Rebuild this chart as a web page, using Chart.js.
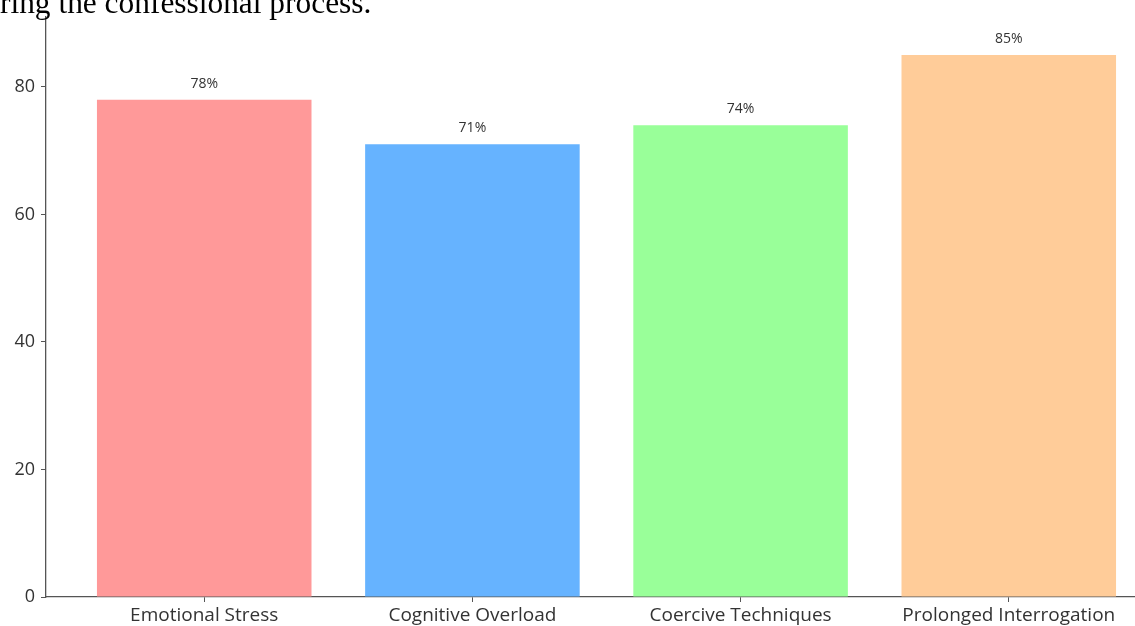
<!DOCTYPE html>
<html>
<head>
<meta charset="utf-8">
<script src="https://cdn.jsdelivr.net/npm/chart.js@4"></script>
<style>
  html, body { margin: 0; padding: 0; background: #fff; overflow: hidden; width: 1135px; height: 626px; }
  #wrap { position: relative; width: 1135px; height: 626px; overflow: hidden; }
  #cap {
    position: absolute; left: 0; top: -13px;
    font-family: "Liberation Serif", "Times New Roman", serif;
    font-size: 31.4px; line-height: 31px; color: #000; white-space: nowrap;
  }
  #chart { position: absolute; left: 0; top: 0; }
</style>
</head>
<body>
<div id="wrap">
  <canvas id="chart" width="1170" height="626"></canvas>
  <div id="cap">ring the confessional process.</div>
</div>
<script>
const categories = ["Emotional Stress", "Cognitive Overload", "Coercive Techniques", "Prolonged Interrogation"];
const values = [78, 71, 74, 85];
const colors = ["#ff9999", "#66b3ff", "#99ff99", "#ffcc99"];
const yTicks = [0, 20, 40, 60, 80];

const textColor = "#333";
const axisColor = "#555";
const font = "'Open Sans', Lato, sans-serif";

// percent labels above each bar
const barLabels = {
  id: "barLabels",
  afterDatasetsDraw(c) {
    const ctx = c.ctx;
    const meta = c.getDatasetMeta(0);
    ctx.save();
    ctx.fillStyle = textColor;
    ctx.font = "14px " + font;
    ctx.textAlign = "center";
    ctx.textBaseline = "bottom";
    meta.data.forEach((bar, i) => {
      const { x, y } = bar.getProps(["x", "y"], true);
      ctx.fillText(values[i] + "%", x, y - 9);
    });
    ctx.restore();
  }
};

new Chart(document.getElementById("chart"), {
  type: "bar",
  data: {
    datasets: [{
      data: values.map((v, i) => ({ x: i, y: v })),
      backgroundColor: colors,
      borderWidth: 0,
      barPercentage: 0.8,
      categoryPercentage: 1
    }]
  },
  options: {
    responsive: false,
    animation: false,
    layout: { padding: { left: 0, right: 3, top: 14, bottom: 0 } },
    plugins: { legend: { display: false }, tooltip: { enabled: false } },
    scales: {
      x: {
        type: "linear",
        offset: false,
        min: -0.59,
        max: 3.59,
        afterBuildTicks: s => { s.ticks = categories.map((_, i) => ({ value: i })); },
        afterFit: s => { s.height = 29; },
        grid: { offset: false, drawOnChartArea: false, drawTicks: true, tickLength: 5, color: axisColor, tickWidth: 1 },
        border: { display: true, color: axisColor, width: 1.3 },
        ticks: {
          color: textColor,
          font: { family: font, size: 19 },
          padding: 2,
          maxRotation: 0,
          autoSkip: false,
          callback: v => categories[v]
        }
      },
      y: {
        min: 0,
        max: 91,
        afterBuildTicks: s => { s.ticks = yTicks.map(v => ({ value: v })); },
        afterFit: s => { s.width = 46; },
        grid: { drawOnChartArea: false, drawTicks: true, tickLength: 5, color: axisColor, tickWidth: 1 },
        border: { display: true, color: axisColor, width: 1.3 },
        ticks: { color: textColor, font: { family: font, size: 18 }, padding: 6 }
      }
    }
  },
  plugins: [barLabels]
});
</script>
</body>
</html>
